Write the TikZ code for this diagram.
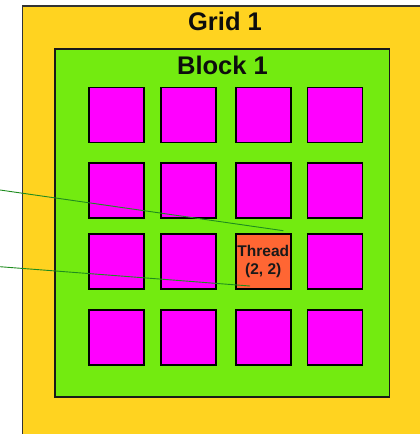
\documentclass[tikz,border=0pt]{standalone}
\usepackage{fontspec}
\setmainfont{Liberation Sans}
\usetikzlibrary{calc}
\definecolor{gridyellow}{HTML}{FFD320}
\definecolor{blockgreen}{HTML}{73EB10}
\definecolor{cellmagenta}{HTML}{FF00FF}
\definecolor{threadorange}{HTML}{FF6633}
\definecolor{linkgreen}{HTML}{1E8C1E}
\begin{document}
\begin{tikzpicture}[x=1pt,y=-1pt,
  gridbox/.style={draw=black!80,line width=1.6pt,fill=gridyellow},
  blockbox/.style={draw=black!90,line width=1.2pt,fill=blockgreen},
  cell/.style={draw=black,line width=1.5pt,fill=cellmagenta,minimum width=55pt,minimum height=55pt,inner sep=0pt,anchor=north west},
  threadcell/.style={cell,fill=threadorange,font=\fontsize{15.5}{17.5}\selectfont\bfseries,align=center,text=black!90},
  title/.style={font=\fontsize{25.5}{28}\selectfont\bfseries,text=black!95,inner sep=0pt,anchor=base},
  link/.style={draw=linkgreen,line width=0.9pt}]
\useasboundingbox (0,0) rectangle (420,434);
\clip (0,0) rectangle (420,434);
% outer grid and the block inside it
\draw[gridbox] (22.5,6) rectangle (428,445);
\draw[blockbox] (55,49) rectangle (389.5,397);
\node[title] (gridlabel) at (225,30.5) {Grid 1};
\node[title] (blocklabel) at (222.5,74) {Block 1};
% 4x4 threads
\foreach \r/\y in {1/86.7,2/162.3,3/233.3,4/309}{
  \foreach \c/\x in {1/88.3,2/160,3/235,4/306.7}{
    \ifnum\r=3 \ifnum\c=3 \else
      \node[cell] (c\r\c) at (\x,\y) {};
    \fi\else
      \node[cell] (c\r\c) at (\x,\y) {};
    \fi
  }
}
\node[threadcell] (thread) at (235,233.3) {\textbf{Thread}\\\textbf{(2, 2)}};
% connectors leading off to the left
\coordinate (src1) at (0,190);
\coordinate (src2) at (0,266.7);
\coordinate (dst1) at (283.3,230.7);
\coordinate (dst2) at (250,286);
\draw[link] (src1) -- (dst1);
\draw[link] (src2) -- (dst2);
\end{tikzpicture}
\end{document}
